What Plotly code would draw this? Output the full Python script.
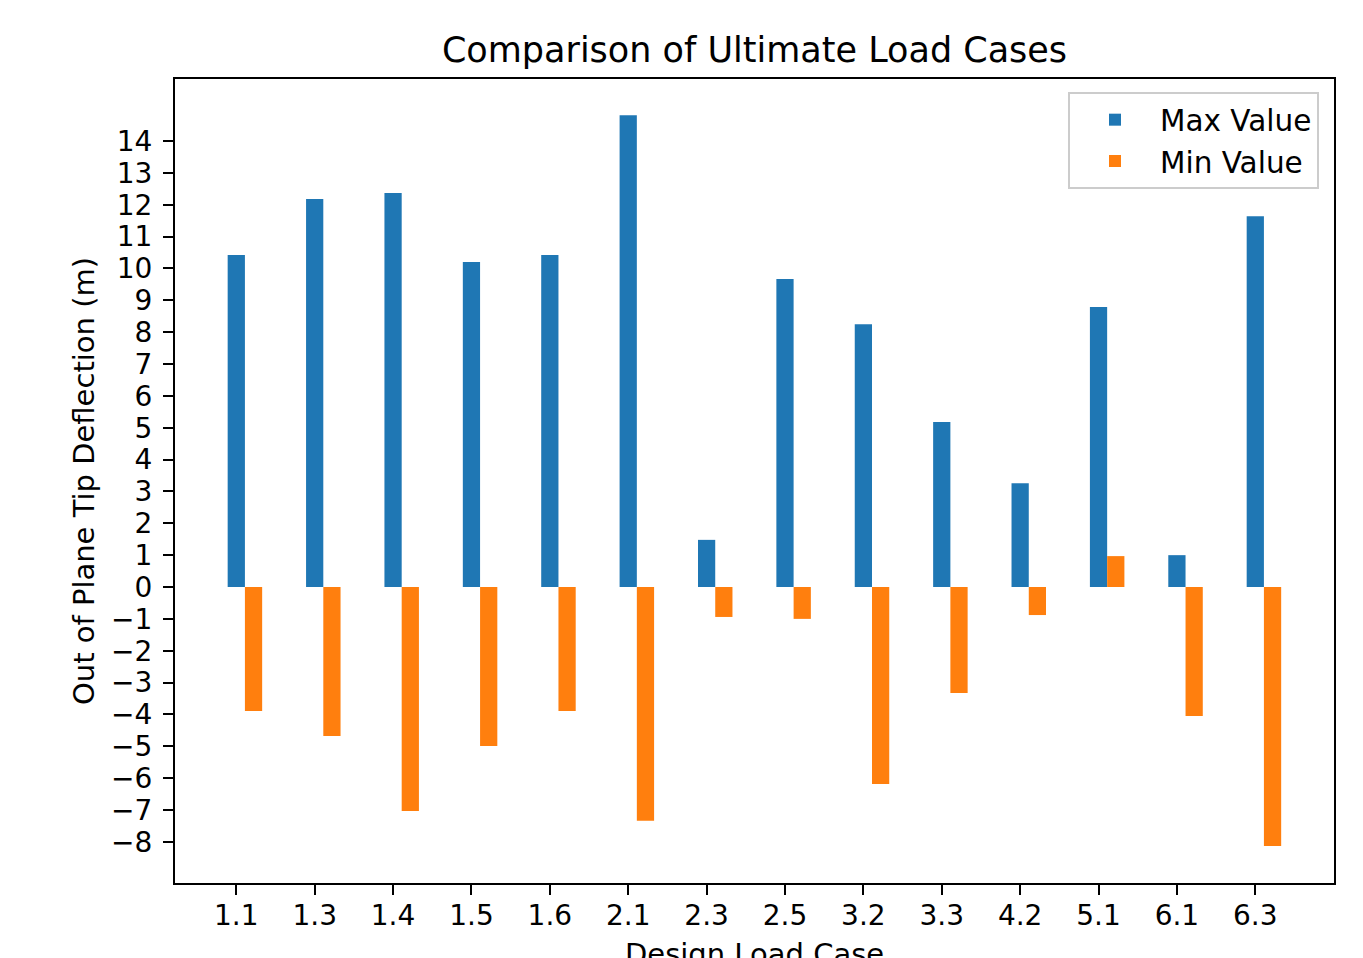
import plotly.graph_objects as go

# ---- data ----
categories = ["1.1", "1.3", "1.4", "1.5", "1.6", "2.1", "2.3", "2.5",
              "3.2", "3.3", "4.2", "5.1", "6.1", "6.3"]
max_values = [10.42, 12.18, 12.37, 10.20, 10.42, 14.81, 1.48, 9.67,
              8.25, 5.18, 3.26, 8.79, 1.00, 11.64]
min_values = [-3.89, -4.68, -7.03, -4.99, -3.89, -7.34, -0.94, -1.00,
              -6.18, -3.33, -0.88, 0.97, -4.05, -8.13]
y_tick_values = list(range(-8, 15))

# ---- styling ----
BAR_W = 0.22
BLUE = "#1f77b4"
ORANGE = "#ff7f0e"
FONT = "DejaVu Sans"
TICK_SIZE = 28
LABEL_SIZE = 29

x_pos = list(range(len(categories)))
x_min_pos = [x + BAR_W for x in x_pos]

fig = go.Figure()
fig.add_trace(go.Bar(x=x_pos, y=max_values, width=BAR_W, name="Max Value",
                     marker=dict(color=BLUE, line=dict(width=0))))
fig.add_trace(go.Bar(x=x_min_pos, y=min_values, width=BAR_W, name="Min Value",
                     marker=dict(color=ORANGE, line=dict(width=0))))

def fmt(v):
    return ("\u2212" + str(-v)) if v < 0 else str(v)

fig.update_layout(
    width=1363, height=958,
    margin=dict(l=175, r=29, t=79, b=75, autoexpand=False),
    paper_bgcolor="white", plot_bgcolor="white",
    barmode="overlay",
    font=dict(family=FONT, color="black", size=TICK_SIZE),
    title=dict(text="Comparison of Ultimate Load Cases",
               font=dict(size=35, family=FONT, color="black"),
               x=(175 + 1334) / 2 / 1363, xanchor="center",
               y=1 - 62 / 958, yanchor="bottom", yref="container"),
    xaxis=dict(range=[-0.782, 14.004], tickmode="array", tickvals=x_pos,
               ticktext=categories, showgrid=False, zeroline=False,
               showline=True, linecolor="black", linewidth=2, mirror=True,
               ticks="outside", ticklen=10, tickwidth=2, tickcolor="black",
               tickfont=dict(size=TICK_SIZE, family=FONT),
               ticklabelstandoff=-4, automargin=True),
    yaxis=dict(range=[-9.29, 15.945], tickmode="array",
               tickvals=y_tick_values,
               ticktext=[fmt(v) for v in y_tick_values],
               showgrid=False, zeroline=False,
               showline=True, linecolor="black", linewidth=2, mirror=True,
               ticks="outside", ticklen=10, tickwidth=2, tickcolor="black",
               tickfont=dict(size=TICK_SIZE, family=FONT),
               ticklabelstandoff=5, automargin=True,
               title=dict(text="Out of Plane Tip Deflection (m)",
                          font=dict(size=LABEL_SIZE, family=FONT),
                          standoff=8)),
    legend=dict(x=(1319 - 175) / 1159, xanchor="right",
                y=1 - (92 - 79) / 804, yanchor="top",
                bgcolor="white", bordercolor="#cccccc", borderwidth=2,
                font=dict(size=29.5, family=FONT),
                itemwidth=80),
    showlegend=True,
    annotations=[dict(text="Design Load Case", xref="paper", yref="paper",
                      x=0.5, y=-(935 - 883) / 804, xanchor="center",
                      yanchor="top", showarrow=False,
                      font=dict(size=LABEL_SIZE, family=FONT,
                                color="black"))],
)

fig.write_html("out.html",
               config={"displayModeBar": False},
               post_script="document.body.style.margin='0';")
